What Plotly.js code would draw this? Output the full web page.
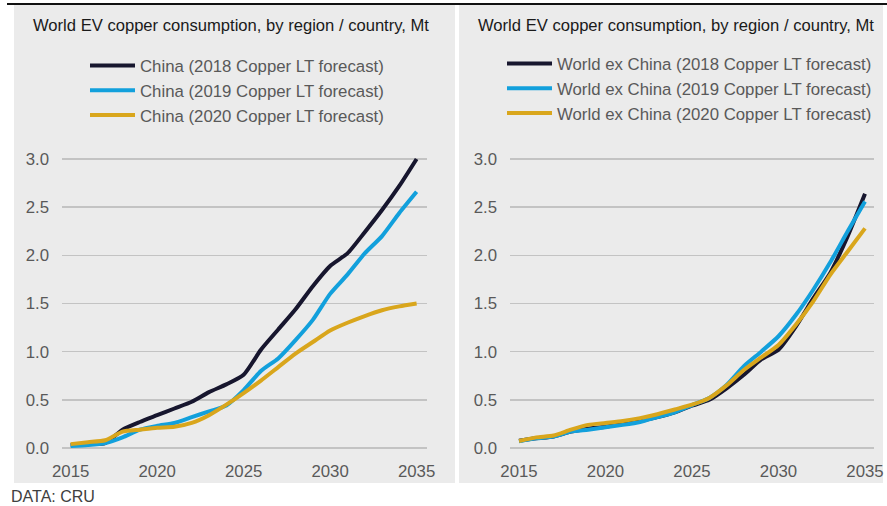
<!DOCTYPE html>
<html>
<head>
<meta charset="utf-8">
<script src="https://cdn.plot.ly/plotly-3.0.1.min.js"></script>
<style>
html,body{margin:0;padding:0;background:#fff;}
#chart{width:887px;height:506px;}
</style>
</head>
<body>
<div id="chart"></div>
<script>
var years = [2015,2016,2017,2018,2019,2020,2021,2022,2023,2024,2025,2026,2027,2028,2029,2030,2031,2032,2033,2034,2035];

var china2018 = [0.03,0.04,0.05,0.19,0.27,0.34,0.41,0.48,0.58,0.66,0.76,1.02,1.23,1.44,1.68,1.89,2.02,2.24,2.47,2.72,3.00];
var china2019 = [0.02,0.03,0.05,0.11,0.19,0.23,0.26,0.32,0.38,0.44,0.60,0.80,0.93,1.12,1.33,1.60,1.80,2.02,2.20,2.44,2.66];
var china2020 = [0.04,0.06,0.08,0.17,0.19,0.21,0.22,0.26,0.34,0.45,0.57,0.70,0.84,0.98,1.10,1.22,1.30,1.37,1.43,1.47,1.50];

var exChina2018 = [0.075,0.10,0.12,0.17,0.20,0.22,0.25,0.28,0.32,0.37,0.44,0.50,0.62,0.76,0.92,1.02,1.26,1.55,1.82,2.20,2.64];
var exChina2019 = [0.07,0.10,0.12,0.17,0.19,0.215,0.24,0.27,0.32,0.37,0.445,0.52,0.655,0.85,1.00,1.16,1.38,1.64,1.93,2.25,2.56];
var exChina2020 = [0.073,0.11,0.13,0.19,0.24,0.26,0.28,0.31,0.35,0.40,0.45,0.52,0.65,0.81,0.94,1.07,1.28,1.52,1.80,2.04,2.28];

var namesLeft = ["China (2018 Copper LT forecast)","China (2019 Copper LT forecast)","China (2020 Copper LT forecast)"];
var namesRight = ["World ex China (2018 Copper LT forecast)","World ex China (2019 Copper LT forecast)","World ex China (2020 Copper LT forecast)"];
var chartTitle = "World EV copper consumption, by region / country, Mt";
var sourceText = "DATA: CRU";
var yTicks = [0,0.5,1,1.5,2,2.5,3];
var yTickText = ["0.0","0.5","1.0","1.5","2.0","2.5","3.0"];
var xTicks = [2015,2020,2025,2030,2035];

var colors = ["#17162e","#12a0dc","#d9a61c"];

var W = 887, H = 506;
function px(x){return x/W;}
function py(y){return 1 - y/H;}

function mk(x, y, name, color, xa, ya, leg){
  return {x:x, y:y, name:name, type:'scatter', mode:'lines',
    line:{color:color, width:4, shape:'spline', smoothing:0.6},
    xaxis:xa, yaxis:ya, legend:leg, hoverinfo:'skip'};
}

var data = [
  mk(years, china2018, namesLeft[0], colors[0], 'x', 'y', 'legend'),
  mk(years, china2019, namesLeft[1], colors[1], 'x', 'y', 'legend'),
  mk(years, china2020, namesLeft[2], colors[2], 'x', 'y', 'legend'),
  mk(years, exChina2018, namesRight[0], colors[0], 'x2', 'y2', 'legend2'),
  mk(years, exChina2019, namesRight[1], colors[1], 'x2', 'y2', 'legend2'),
  mk(years, exChina2020, namesRight[2], colors[2], 'x2', 'y2', 'legend2')
];

var FF = 'Liberation Sans, Arial, sans-serif';
var tickFont = {family:FF, size:16.8, color:'#595959'};
var yDomain = [py(452.8), py(154.2)];

function xAxis(domain, range){
  return {domain:domain, range:range, tickvals:xTicks, showgrid:false, zeroline:false,
    showline:false, ticks:'', tickfont:tickFont, ticklabelstandoff:6, fixedrange:true};
}
function yAxis(anchor){
  return {domain:yDomain, range:[-0.05,3.05], tickvals:yTicks, ticktext:yTickText,
    showgrid:true, gridcolor:'#c3c3c3', gridwidth:1.5, zeroline:false, showline:false,
    ticks:'', tickfont:tickFont, ticklabelstandoff:12, anchor:anchor, fixedrange:true};
}

var legFont = {family:FF, size:16.8, color:'#595959'};

var layout = {
  width:W, height:H,
  margin:{l:0,r:0,t:0,b:0},
  paper_bgcolor:'#ffffff',
  plot_bgcolor:'rgba(0,0,0,0)',
  showlegend:true,
  xaxis: xAxis([px(62), px(427)], [2014.5, 2035.6]),
  yaxis: yAxis('x'),
  xaxis2: xAxis([px(510), px(874)], [2014.48, 2035.52]),
  yaxis2: yAxis('x2'),
  legend: {x:px(85), y:py(48), xanchor:'left', yanchor:'top', bgcolor:'rgba(0,0,0,0)',
    font:legFont, itemwidth:45, tracegroupgap:0},
  legend2: {x:px(502), y:py(46), xanchor:'left', yanchor:'top', bgcolor:'rgba(0,0,0,0)',
    font:legFont, itemwidth:45, tracegroupgap:0},
  shapes: [
    {type:'rect', xref:'paper', yref:'paper', x0:px(14), x1:px(455), y0:py(483), y1:py(5), fillcolor:'#ebebeb', line:{width:0}, layer:'below'},
    {type:'rect', xref:'paper', yref:'paper', x0:px(459), x1:px(883), y0:py(483), y1:py(5), fillcolor:'#ebebeb', line:{width:0}, layer:'below'},
    {type:'line', xref:'paper', yref:'paper', x0:px(7), x1:px(887), y0:py(4), y1:py(4), line:{color:'#111111', width:2}}
  ],
  annotations: [
    {text:chartTitle, xref:'paper', yref:'paper', x:px(31), y:py(25), xanchor:'left', yanchor:'middle', showarrow:false,
      font:{family:FF, size:16.6, color:'#1a1a1a'}},
    {text:chartTitle, xref:'paper', yref:'paper', x:px(476), y:py(25), xanchor:'left', yanchor:'middle', showarrow:false,
      font:{family:FF, size:16.6, color:'#1a1a1a'}},
    {text:sourceText, xref:'paper', yref:'paper', x:px(9), y:py(496), xanchor:'left', yanchor:'middle', showarrow:false,
      font:{family:FF, size:16, color:'#404040'}}
  ]
};

Plotly.newPlot('chart', data, layout, {displayModeBar:false, staticPlot:true});
</script>
</body>
</html>
